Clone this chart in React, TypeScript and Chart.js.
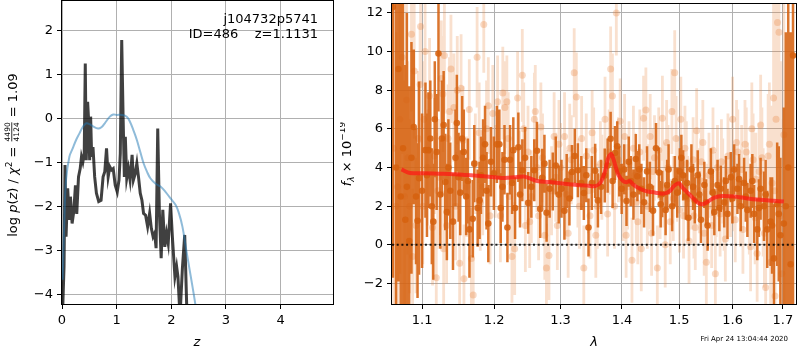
import { useEffect, useRef } from "react";
import { Chart, registerables } from "chart.js";
Chart.register(...registerables);

const FONT = "'DejaVu Sans', sans-serif";

// ---------- left panel: log p(z) ----------
const pzZ = [0.006, 0.037, 0.055, 0.074, 0.104, 0.135, 0.154, 0.185, 0.215, 0.246, 0.27, 0.302, 0.333, 0.357, 0.382, 0.407, 0.426, 0.444, 0.469, 0.487, 0.506, 0.524, 0.543, 0.567, 0.598, 0.63, 0.672, 0.715, 0.752, 0.783, 0.815, 0.845, 0.876, 0.907, 0.937, 0.974, 1.011, 1.043, 1.067, 1.093, 1.117, 1.141, 1.159, 1.185, 1.215, 1.246, 1.283, 1.307, 1.339, 1.37, 1.4, 1.432, 1.463, 1.493, 1.53, 1.567, 1.604, 1.635, 1.667, 1.696, 1.722, 1.752, 1.783, 1.815, 1.845, 1.881, 1.913, 1.944, 1.987, 2.024, 2.067, 2.098, 2.122, 2.16, 2.204, 2.246, 2.29];
const pzLog = [-4.6, -3.37, -1.06, -2.69, -1.59, -2.31, -1.78, -2.39, -2.12, -1.52, -2.17, -1.33, -1.14, -0.87, -0.99, -0.8, 1.25, -0.95, 0.38, -0.04, -0.95, 0.04, -0.87, -0.65, -1.33, -1.7, -1.89, -1.86, -1.33, -1.21, -0.68, -1.33, -1.1, -1.17, -1.14, -1.52, -1.67, -1.4, -0.8, 1.78, 0.11, -1.33, -0.42, -1.36, -1.14, -1.4, -0.83, -1.4, -1.26, -1.02, -1.33, -1.7, -1.86, -2.16, -2.2, -2.46, -2.16, -2.5, -2.69, -2.61, -2.95, -0.23, -2.16, -3.18, -2.08, -2.92, -2.61, -2.84, -1.93, -2.77, -3.6, -3.37, -3.6, -4.5, -3.4, -2.65, -4.6];
const priorZ = [0.012, 0.043, 0.074, 0.135, 0.196, 0.258, 0.32, 0.382, 0.444, 0.506, 0.567, 0.66, 0.721, 0.783, 0.876, 0.937, 1.0, 1.093, 1.185, 1.246, 1.307, 1.37, 1.432, 1.493, 1.555, 1.617, 1.709, 1.802, 1.894, 1.987, 2.08, 2.141, 2.204, 2.265, 2.326, 2.389, 2.45, 2.5];
const priorLog = [-3.67, -2.31, -1.4, -0.87, -0.68, -0.49, -0.34, -0.19, -0.11, -0.13, -0.18, -0.23, -0.2, -0.11, 0.04, 0.09, 0.08, 0.08, 0.04, -0.08, -0.27, -0.49, -0.76, -1.02, -1.21, -1.36, -1.48, -1.55, -1.67, -1.82, -1.97, -2.16, -2.46, -2.92, -3.37, -3.83, -4.3, -4.7];
const pzXTicks = [0, 1, 2, 3, 4];
const pzYTicks = [-4, -3, -2, -1, 0, 1, 2];
const objName = "j104732p5741";
const objInfo = "ID=486    z=1.1131";

// ---------- right panel: spectrum ----------
const darkLam = [1.062, 1.066, 1.069, 1.072, 1.075, 1.078, 1.080, 1.083, 1.086, 1.089, 1.092, 1.094, 1.096, 1.100, 1.1045, 1.1085, 1.113, 1.117, 1.122, 1.1267, 1.1312, 1.1334, 1.138, 1.1453, 1.1471, 1.1518, 1.1568, 1.1601, 1.1647, 1.1693, 1.1763, 1.181, 1.1868, 1.1915, 1.1953, 1.2039, 1.2075, 1.212, 1.2193, 1.2232, 1.2262, 1.2306, 1.2355, 1.2414, 1.2503, 1.2594, 1.2635, 1.2685, 1.2715, 1.2783, 1.2879, 1.2972, 1.3061, 1.3097, 1.318, 1.3275, 1.333, 1.3371, 1.3446, 1.35, 1.3555, 1.3652, 1.3712, 1.381, 1.3843, 1.3883, 1.3955, 1.4038, 1.4077, 1.4151, 1.4236, 1.4263, 1.4332, 1.4378, 1.443, 1.4534, 1.4587, 1.464, 1.4697, 1.4757, 1.481, 1.4874, 1.4922, 1.5012, 1.5072, 1.512, 1.5169, 1.5224, 1.5285, 1.534, 1.54, 1.5463, 1.5524, 1.5586, 1.565, 1.5711, 1.5774, 1.5838, 1.5901, 1.5965, 1.6029, 1.6093, 1.6157, 1.6223, 1.6287, 1.6352, 1.6419, 1.6483, 1.6549, 1.6617, 1.6682, 1.6749, 1.6816, 1.6883, 1.6949, 1.7019, 1.706, 1.711, 1.716, 1.7209];
const darkFlux = [12.3, 4.0, 9.1, 2.5, 5.0, 1.3, 3.0, 0.2, 4.5, 6.1, 2.5, 1.25, 3.45, 2.8, 4.9, 4.9, 2.0, 6.5, 9.9, 5.5, 3.25, 1.7, 2.8, 4.5, 6.3, 2.7, 4.8, 2.5, 0.8, 1.35, 1.9, 3.6, 5.2, 1.1, 4.3, 5.2, 5.2, 3.0, 0.9, 4.4, 3.2, 1.9, 5.05, 3.86, 2.17, 3.86, 4.87, 1.86, 3.47, 1.66, 3.28, 2.6, 1.76, 3.3, 3.77, 3.86, 3.2, 2.68, 0.9, 3.2, 3.83, 3.0, 3.59, 5.49, 3.3, 4.75, 3.8, 3.9, 2.27, 3.3, 4.44, 3.55, 2.9, 2.2, 3.8, 1.77, 5.0, 3.74, 2.63, 1.8, 3.9, 2.0, 3.3, 3.8, 3.6, 2.5, 1.4, 3.9, 2.3, 3.6, 1.3, 3.1, 1.0, 3.8, 1.7, 3.1, 2.9, 2.2, 1.6, 3.5, 3.9, 2.9, 2.0, 3.2, 1.8, 2.8, 1.6, 0.8, 2.9, 2.0, 0.8, 1.2, -0.7, 2.1, 0.5, 1.1, 2.0, 4.0, -1.0, 9.8];
const darkErr = [14, 12, 11, 10, 9, 8, 9, 8, 6, 4, 3.5, 4, 5, 4, 3.5, 3, 3, 3, 3, 3, 2.5, 2.5, 2.5, 2.5, 2.5, 2.2, 2.2, 2, 2.5, 2, 2, 2, 2, 2, 1.8, 2, 1.8, 1.8, 1.8, 1.8, 1.6, 1.6, 1.8, 1.6, 1.6, 1.6, 1.5, 1.5, 1.5, 1.5, 1.5, 1.5, 1.5, 1.4, 1.4, 1.4, 1.4, 1.4, 1.5, 1.4, 1.4, 1.4, 1.4, 1.4, 1.4, 1.4, 1.3, 1.3, 1.3, 1.3, 1.3, 1.3, 1.3, 1.3, 1.3, 1.3, 1.3, 1.3, 1.2, 1.3, 1.3, 1.3, 1.3, 1.2, 1.3, 1.2, 1.2, 1.3, 1.2, 1.3, 1.2, 1.2, 1.3, 1.2, 1.2, 1.3, 1.2, 1.3, 1.3, 1.3, 1.3, 1.3, 1.3, 1.3, 1.4, 1.4, 1.5, 1.6, 1.6, 1.8, 2.0, 2.3, 2.8, 3.2, 4, 6, 9, 12, 12, 14];

const darkLam2 = [1.1065, 1.111, 1.115, 1.1195, 1.1245, 1.129, 1.1355, 1.1418, 1.1495, 1.1545, 1.1625, 1.1715, 1.179, 1.184, 1.189, 1.1995, 1.2095, 1.215, 1.228, 1.238, 1.2455, 1.255, 1.275, 1.283, 1.2925, 1.3015, 1.314, 1.3225, 1.341, 1.36, 1.376, 1.392, 1.3995, 1.4115, 1.4195, 1.4295, 1.448, 1.467, 1.4785, 1.4965, 1.504, 1.5145, 1.5255, 1.537, 1.5495, 1.562, 1.5745, 1.587, 1.5995, 1.6125, 1.6255, 1.6385, 1.6515, 1.665, 1.678, 1.6915];
const darkFlux2 = [3.6, 5.5, 1.2, 4.8, 2.6, 6.2, 4.0, 1.2, 3.5, 5.5, 3.3, 4.2, 2.3, 4.5, 2.8, 3.7, 1.9, 4.4, 4.9, 2.6, 4.5, 3.0, 4.2, 2.9, 4.1, 2.9, 2.4, 4.6, 3.6, 2.3, 4.1, 5.1, 2.9, 4.3, 2.6, 3.9, 3.0, 2.1, 3.1, 2.7, 4.5, 3.2, 3.0, 2.6, 2.2, 2.7, 1.9, 3.3, 2.4, 3.4, 2.5, 3.3, 1.9, 2.6, 1.0, 1.6];
const darkErr2 = [3.2, 3, 3, 3, 2.8, 2.8, 2.5, 2.5, 2.3, 2.2, 2.2, 2, 2, 2, 2, 1.9, 1.8, 1.8, 1.7, 1.7, 1.6, 1.6, 1.5, 1.5, 1.5, 1.5, 1.4, 1.4, 1.4, 1.4, 1.4, 1.3, 1.3, 1.3, 1.3, 1.3, 1.3, 1.2, 1.3, 1.3, 1.2, 1.2, 1.2, 1.2, 1.2, 1.2, 1.2, 1.3, 1.3, 1.3, 1.3, 1.4, 1.5, 1.8, 2.5, 3.5];

const lightLam = [1.063, 1.066, 1.071, 1.0738, 1.077, 1.081, 1.086, 1.0875, 1.0896, 1.092, 1.0974, 1.098, 1.101, 1.104, 1.107, 1.11, 1.114, 1.119, 1.123, 1.1258, 1.128, 1.129, 1.13, 1.135, 1.139, 1.143, 1.1477, 1.151, 1.153, 1.157, 1.161, 1.1674, 1.17, 1.173, 1.1755, 1.18, 1.185, 1.189, 1.194, 1.198, 1.2049, 1.209, 1.2125, 1.2155, 1.2185, 1.222, 1.226, 1.23, 1.2344, 1.2414, 1.246, 1.25, 1.255, 1.2596, 1.261, 1.266, 1.272, 1.278, 1.282, 1.286, 1.29, 1.295, 1.3, 1.3063, 1.312, 1.317, 1.3216, 1.325, 1.33, 1.337, 1.341, 1.347, 1.353, 1.359, 1.364, 1.3717, 1.376, 1.381, 1.384, 1.3875, 1.3905, 1.394, 1.397, 1.402, 1.407, 1.412, 1.417, 1.422, 1.427, 1.433, 1.437, 1.441, 1.446, 1.451, 1.456, 1.461, 1.466, 1.47, 1.475, 1.48, 1.484, 1.487, 1.492, 1.497, 1.503, 1.508, 1.513, 1.518, 1.523, 1.527, 1.532, 1.537, 1.541, 1.546, 1.55, 1.555, 1.56, 1.567, 1.571, 1.576, 1.581, 1.586, 1.591, 1.596, 1.6, 1.605, 1.61, 1.615, 1.62, 1.624, 1.629, 1.635, 1.64, 1.644, 1.648, 1.652, 1.655, 1.66, 1.665, 1.67, 1.675, 1.678, 1.681, 1.684, 1.686, 1.689, 1.692, 1.695, 1.698, 1.702];
const lightFlux = [5.0, 2.0, 6.5, 9.7, 2.5, 4.5, 10.9, -0.6, 9.0, 1.0, 8.3, 11.3, 2.0, 10.0, 4.0, 7.7, 0.9, -1.7, 3.5, 8.6, 7.8, -0.2, 9.8, 5.5, 9.1, 7.1, 8.0, -0.95, 8.1, -1.75, 3.0, -0.7, -2.6, 4.2, 9.7, 2.2, 11.4, 6.0, 1.5, 6.8, 7.4, 1.5, 7.85, 7.1, 7.4, 2.5, -0.6, -0.2, 7.6, 8.77, 1.0, 4.8, 2.5, 6.5, 6.9, 1.5, 4.5, -1.2, -0.55, 2.8, 5.6, 1.0, 4.0, 5.6, 0.6, 4.4, 8.9, 7.65, 2.0, -1.2, 4.6, 1.5, 4.9, 2.0, 4.2, 6.5, 1.6, 9.1, 7.7, 2.0, 12.0, 4.4, 6.4, 2.4, 0.5, 4.2, -0.8, 3.6, 1.2, -0.2, 6.55, 6.97, 3.0, 0.6, 4.5, -1.2, 2.5, 6.55, 0.0, 4.0, 1.2, 6.9, 8.9, 3.4, 6.5, 1.5, 4.2, 0.2, 3.0, 1.5, 5.9, 2.8, 4.3, 0.6, -0.9, 3.6, 1.0, -1.5, 4.0, 1.6, 3.3, 0.3, 4.6, 2.6, 6.5, 1.3, 4.8, 2.2, 0.8, 5.2, 3.0, -0.1, 4.4, 1.4, -0.45, 3.8, 6.2, 2.2, -2.2, 4.6, -0.9, 3.2, 7.6, -2.65, 6.5, 11.5, 11.0, 1.5, -1.5, 5.7];
const lightErr = [9, 9, 8, 5, 6, 5, 4, 3.5, 3.5, 3.5, 3, 3, 3, 3, 3, 3, 3, 3, 3, 3, 3, 3, 3, 2.8, 2.8, 2.8, 2.8, 2.8, 2.8, 2.8, 2.6, 2.6, 2.6, 2.6, 2.6, 2.5, 2.5, 2.5, 2.5, 2.5, 2.4, 2.4, 2.4, 2.4, 2.4, 2.4, 2.4, 2.4, 2.4, 2.4, 2.4, 2.4, 2.4, 2.4, 2.4, 2.3, 2.3, 2.3, 2.3, 2.3, 2.3, 2.3, 2.3, 2.3, 2.3, 2.3, 2.3, 2.3, 2.2, 2.2, 2.2, 2.2, 2.2, 2.2, 2.2, 2.2, 2.2, 2.2, 2.2, 2.2, 2.2, 2.2, 2.2, 2.2, 2.2, 2.2, 2.2, 2.2, 2.2, 2.2, 2.2, 2.2, 2.2, 2.2, 2.2, 2.2, 2.2, 2.2, 2.2, 2.2, 2.2, 2.2, 2.2, 2.2, 2.2, 2.2, 2.2, 2.2, 2.2, 2.2, 2.2, 2.2, 2.2, 2.2, 2.2, 2.2, 2.2, 2.2, 2.2, 2.2, 2.2, 2.2, 2.2, 2.2, 2.2, 2.2, 2.2, 2.3, 2.3, 2.3, 2.3, 2.3, 2.4, 2.4, 2.5, 2.5, 2.6, 2.8, 3, 3.2, 3.5, 4, 5, 6, 6, 7, 7, 8, 8, 9];

const lightLam2 = [1.068, 1.0795, 1.0835, 1.095, 1.1025, 1.1165, 1.121, 1.133, 1.137, 1.1455, 1.1555, 1.1645, 1.1785, 1.1835, 1.1915, 1.2015, 1.2205, 1.2375, 1.2435, 1.2525, 1.2635, 1.2695, 1.2755, 1.2925, 1.2975, 1.3095, 1.3145, 1.3275, 1.3335, 1.3445, 1.3505, 1.3565, 1.3665, 1.3785, 1.3995, 1.4045, 1.4095, 1.4195, 1.4245, 1.4305, 1.4435, 1.4485, 1.4535, 1.4635, 1.4725, 1.4775, 1.4895, 1.4945, 1.5005, 1.5105, 1.5155, 1.5255, 1.5295, 1.5395, 1.5435, 1.5525, 1.5625, 1.5685, 1.5785, 1.5835, 1.5935, 1.6025, 1.6075, 1.6175, 1.6265, 1.6325, 1.6375, 1.6455, 1.6575, 1.6625, 1.6725, 1.6835];
const lightFlux2 = [3.0, 7.5, 2.0, 5.5, 6.5, 4.6, 2.8, 1.0, 6.9, 2.0, 5.4, 7.0, 5.8, 3.0, 7.2, 3.8, 5.5, 3.5, 6.0, 1.2, 4.0, 6.1, 0.5, 3.5, 5.2, 2.6, 5.0, 3.2, 5.5, 2.8, 5.8, 0.5, 3.5, 4.8, 4.0, 5.6, 3.0, 5.0, 2.2, 4.8, 2.0, 5.6, 3.8, 4.9, 3.1, 5.3, 2.4, 5.5, 1.8, 5.0, 2.4, 4.4, 0.9, 3.3, 5.3, 2.0, 4.9, 2.6, 4.3, 1.9, 3.8, 2.9, 5.3, 3.9, 4.8, 1.8, 6.0, 3.4, 4.5, 0.6, 5.2, 2.8];
const lightErr2 = [7, 5, 4.5, 3.5, 3, 3, 3, 3, 2.8, 2.8, 2.8, 2.6, 2.6, 2.5, 2.5, 2.4, 2.4, 2.4, 2.4, 2.4, 2.3, 2.3, 2.3, 2.3, 2.3, 2.3, 2.3, 2.3, 2.2, 2.2, 2.2, 2.2, 2.2, 2.2, 2.2, 2.2, 2.2, 2.2, 2.2, 2.2, 2.2, 2.2, 2.2, 2.2, 2.2, 2.2, 2.2, 2.2, 2.2, 2.2, 2.2, 2.2, 2.2, 2.2, 2.2, 2.2, 2.2, 2.2, 2.2, 2.2, 2.2, 2.2, 2.2, 2.3, 2.3, 2.3, 2.4, 2.4, 2.6, 2.8, 3.2, 5];

const modelLam = [1.073, 1.084, 1.106, 1.123, 1.155, 1.177, 1.2, 1.2155, 1.2305, 1.2435, 1.252, 1.264, 1.2817, 1.303, 1.3225, 1.3446, 1.3555, 1.3637, 1.3717, 1.377, 1.3818, 1.386, 1.3937, 1.402, 1.4077, 1.4133, 1.419, 1.4275, 1.4413, 1.458, 1.472, 1.483, 1.491, 1.5, 1.506, 1.5215, 1.534, 1.5432, 1.5524, 1.565, 1.5806, 1.603, 1.6287, 1.6549, 1.6816, 1.7019];
const modelFlux = [3.9, 3.72, 3.7, 3.68, 3.63, 3.57, 3.5, 3.46, 3.5, 3.53, 3.45, 3.3, 3.25, 3.17, 3.11, 3.06, 3.04, 3.2, 3.8, 4.5, 4.7, 4.4, 3.63, 3.3, 3.24, 3.3, 3.12, 2.95, 2.78, 2.7, 2.65, 2.78, 3.06, 3.18, 2.96, 2.53, 2.19, 2.1, 2.23, 2.44, 2.53, 2.5, 2.4, 2.33, 2.28, 2.24];
const specXTicks = [1.1, 1.2, 1.3, 1.4, 1.5, 1.6, 1.7];
const specYTicks = [-2, 0, 2, 4, 6, 8, 10, 12];
const specXRange = [1.0608, 1.7271];
const dateStamp = "Fri Apr 24 13:04:44 2020";

const DARK = "rgba(214,98,16,0.88)";
const LIGHT = "rgba(232,130,60,0.25)";
const LIGHT_PT = "rgba(232,130,60,0.3)";

type Run = { t: string; f: string; dy?: number } | { num: string; den: string; f: string };

function drawRuns(ctx: CanvasRenderingContext2D, runs: Run[], cx: number, cy: number, rotate: boolean) {
  ctx.save();
  ctx.translate(cx, cy);
  if (rotate) ctx.rotate(-Math.PI / 2);
  const widths = runs.map((r: any) => {
    ctx.font = r.f;
    if (r.num !== undefined) return Math.max(ctx.measureText(r.num).width, ctx.measureText(r.den).width) + 2;
    return ctx.measureText(r.t).width;
  });
  const total = widths.reduce((a, b) => a + b, 0);
  let x = -total / 2;
  const base = 4.6;
  ctx.fillStyle = "#000";
  ctx.textBaseline = "alphabetic";
  runs.forEach((r: any, i) => {
    ctx.font = r.f;
    if (r.num !== undefined) {
      const w = widths[i];
      ctx.textAlign = "center";
      ctx.fillText(r.num, x + w / 2, base - 6.2);
      ctx.fillText(r.den, x + w / 2, base + 2.2);
      ctx.fillRect(x + 1, base - 5.2, w - 2, 0.8);
      ctx.textAlign = "left";
    } else {
      ctx.textAlign = "left";
      ctx.fillText(r.t, x, base + (r.dy || 0));
    }
    x += widths[i];
  });
  ctx.restore();
}

const N = `13px ${FONT}`;
const I = `italic 13px ${FONT}`;
const S = `9px ${FONT}`;
const SI = `italic 9px ${FONT}`;

function fmt(v: number, d = 0) {
  const s = d ? v.toFixed(d) : String(v);
  return s.replace("-", "\u2212");
}

function fixed(size: number) {
  return (scale: any) => {
    if (scale.isHorizontal()) scale.height = size;
    else scale.width = size;
    scale.paddingTop = 0;
    scale.paddingBottom = 0;
    scale.paddingLeft = 0;
    scale.paddingRight = 0;
  };
}

function setTicks(vals: number[]) {
  return (scale: any) => {
    scale.ticks = vals.map((v) => ({ value: v }));
  };
}

function frame(chart: any) {
  const ctx = chart.ctx;
  const a = chart.chartArea;
  ctx.save();
  ctx.strokeStyle = "#000";
  ctx.lineWidth = 1;
  ctx.strokeRect(Math.round(a.left) - 0.5, Math.round(a.top) - 0.5, Math.round(a.right - a.left) + 1, Math.round(a.bottom - a.top) + 1);
  ctx.restore();
}

function errorSegments(lam: number[], flux: number[], err: number[]) {
  const out: any[] = [];
  lam.forEach((l, i) => {
    out.push({ x: l, y: flux[i] - err[i] });
    out.push({ x: l, y: flux[i] + err[i] });
    out.push({ x: l, y: null });
  });
  return out;
}

function pts(xs: number[], ys: number[]) {
  return xs.map((x, i) => ({ x, y: ys[i] }));
}

const gridBase = { color: "#b0b0b0", lineWidth: 1, tickLength: 5, tickColor: "#000", drawTicks: true };
const tickBase = { color: "#000", font: { family: FONT, size: 13 }, padding: 4, maxRotation: 0, autoSkip: false };

export default function App() {
  const leftRef = useRef<HTMLCanvasElement>(null);
  const rightRef = useRef<HTMLCanvasElement>(null);

  useEffect(() => {
    const dLam = darkLam.concat(darkLam2);
    const dFlux = darkFlux.concat(darkFlux2);
    const dErr = darkErr.concat(darkErr2);
    const lLam = lightLam.concat(lightLam2);
    const lFlux = lightFlux.concat(lightFlux2);
    const lErr = lightErr.concat(lightErr2);

    const left = new Chart(leftRef.current as HTMLCanvasElement, {
      type: "line",
      data: {
        datasets: [
          {
            data: pts(priorZ, priorLog),
            borderColor: "rgba(31,119,180,0.5)",
            borderWidth: 2,
            pointRadius: 0,
            tension: 0.4,
            clip: 0,
          } as any,
          {
            data: pts(pzZ, pzLog),
            borderColor: "rgba(0,0,0,0.75)",
            borderWidth: 3,
            pointRadius: 0,
            tension: 0,
            clip: 0,
          } as any,
        ],
      },
      options: {
        responsive: false,
        animation: false,
        events: [],
        layout: { padding: { left: 0, right: 7, top: 1, bottom: 0 } },
        plugins: { legend: { display: false }, tooltip: { enabled: false } },
        scales: {
          x: {
            type: "linear",
            min: 0,
            max: 4.96,
            afterBuildTicks: setTicks(pzXTicks),
            afterFit: fixed(46),
            grid: gridBase,
            border: { display: false },
            ticks: { ...tickBase, callback: (v: any) => fmt(Number(v)) },
          },
          y: {
            type: "linear",
            min: -4.22,
            max: 2.67,
            afterBuildTicks: setTicks(pzYTicks),
            afterFit: fixed(62),
            grid: gridBase,
            border: { display: false },
            ticks: { ...tickBase, callback: (v: any) => fmt(Number(v)) },
          },
        },
      },
      plugins: [
        {
          id: "leftDeco",
          afterDraw(chart: any) {
            frame(chart);
            const ctx = chart.ctx;
            ctx.save();
            ctx.fillStyle = "#000";
            ctx.font = N;
            ctx.textAlign = "right";
            ctx.textBaseline = "middle";
            ctx.fillText(objName, 318, 20);
            ctx.fillText(objInfo, 318, 34.5);
            ctx.restore();
            drawRuns(ctx, [{ t: "z", f: I }], 197, 341, false);
            drawRuns(
              ctx,
              [
                { t: "log ", f: N },
                { t: "p", f: I },
                { t: "(", f: N },
                { t: "z", f: I },
                { t: ") / ", f: N },
                { t: "\u03c7", f: I },
                { t: "2", f: S, dy: -5 },
                { t: " = ", f: N },
                { num: "4490", den: "4124", f: `7.5px ${FONT}` },
                { t: " = 1.09", f: N },
              ],
              12,
              155,
              true
            );
          },
        },
      ],
    } as any);

    const right = new Chart(rightRef.current as HTMLCanvasElement, {
      type: "line",
      data: {
        datasets: [
          {
            data: pts(modelLam, modelFlux),
            borderColor: "rgba(255,20,20,0.7)",
            borderWidth: 4,
            pointRadius: 0,
            tension: 0.3,
          },
          {
            data: [
              { x: specXRange[0], y: 0 },
              { x: specXRange[1], y: 0 },
            ],
            borderColor: "rgba(0,0,0,0.85)",
            borderWidth: 2,
            borderDash: [2, 2.7],
            pointRadius: 0,
          },
          {
            data: pts(dLam, dFlux),
            showLine: false,
            pointRadius: 3.3,
            pointBorderWidth: 0,
            pointBackgroundColor: DARK,
            clip: 0,
          },
          {
            data: errorSegments(dLam, dFlux, dErr),
            borderColor: DARK,
            borderWidth: 2.5,
            pointRadius: 0,
            spanGaps: false,
            clip: 0,
          },
          {
            data: pts(lLam, lFlux),
            showLine: false,
            pointRadius: 3.5,
            pointBorderWidth: 0,
            pointBackgroundColor: LIGHT_PT,
            clip: 0,
          },
          {
            data: errorSegments(lLam, lFlux, lErr),
            borderColor: LIGHT,
            borderWidth: 2.8,
            pointRadius: 0,
            spanGaps: false,
            clip: 0,
          },
        ] as any,
      },
      options: {
        responsive: false,
        animation: false,
        events: [],
        layout: { padding: { left: 0, right: 1, top: 1, bottom: 0 } },
        plugins: { legend: { display: false }, tooltip: { enabled: false } },
        scales: {
          x: {
            type: "logarithmic",
            min: specXRange[0],
            max: specXRange[1],
            z: 1,
            afterBuildTicks: setTicks(specXTicks),
            afterFit: fixed(46),
            grid: gridBase,
            border: { display: false },
            ticks: { ...tickBase, callback: (v: any) => fmt(Number(v), 1) },
          },
          y: {
            type: "linear",
            min: -3.06,
            max: 12.46,
            z: 1,
            afterBuildTicks: setTicks(specYTicks),
            afterFit: fixed(52),
            grid: gridBase,
            border: { display: false },
            ticks: { ...tickBase, callback: (v: any) => fmt(Number(v)) },
          },
        },
      },
      plugins: [
        {
          id: "rightDeco",
          afterDraw(chart: any) {
            frame(chart);
            const ctx = chart.ctx;
            drawRuns(ctx, [{ t: "\u03bb", f: I }], 254, 341, false);
            drawRuns(
              ctx,
              [
                { t: "f", f: I },
                { t: "\u03bb", f: SI, dy: 3 },
                { t: " \u00d7 10", f: N },
                { t: "\u221219", f: S, dy: -5.5 },
              ],
              6,
              154,
              true
            );
            ctx.save();
            ctx.fillStyle = "#000";
            ctx.font = `7px ${FONT}`;
            ctx.textAlign = "right";
            ctx.textBaseline = "middle";
            ctx.fillText(dateStamp, 448, 339);
            ctx.restore();
          },
        },
      ],
    } as any);

    return () => {
      left.destroy();
      right.destroy();
    };
  }, []);

  return (
    <div style={{ position: "absolute", left: 0, top: 0, width: 800, height: 350, background: "#fff" }}>
      <canvas ref={leftRef} width={340} height={350} style={{ position: "absolute", left: 0, top: 0, width: 340, height: 350 }} />
      <canvas ref={rightRef} width={460} height={350} style={{ position: "absolute", left: 340, top: 0, width: 460, height: 350 }} />
    </div>
  );
}
